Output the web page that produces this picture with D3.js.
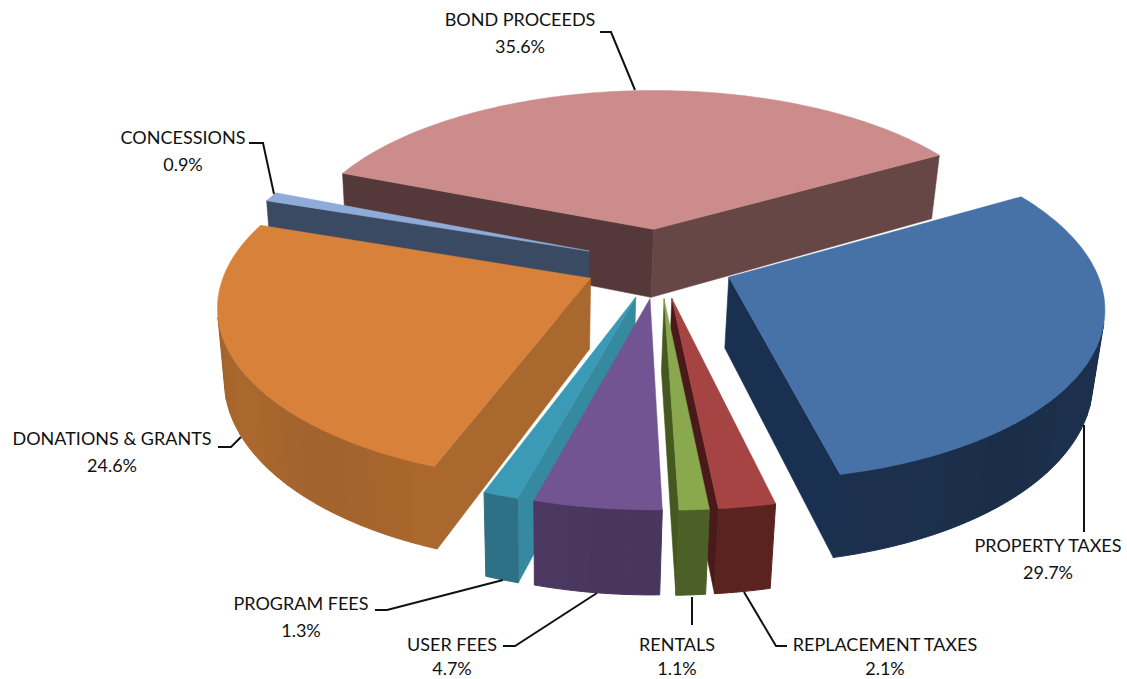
<!DOCTYPE html>
<html>
<head>
<meta charset="utf-8">
<script src="https://cdn.jsdelivr.net/npm/d3@7/dist/d3.min.js"></script>
<style>
  html, body { margin: 0; padding: 0; background: #fff; }
  svg { display: block; }
  text { font-family: Lato, "Open Sans", sans-serif; font-size: 18px; fill: #111; }
</style>
</head>
<body>
<svg id="chart" width="1127" height="679"></svg>
<script>
// Revenue shares, clockwise from the right edge of the largest slice.
const categories = ["PROPERTY TAXES", "REPLACEMENT TAXES", "RENTALS", "USER FEES",
                    "PROGRAM FEES", "DONATIONS & GRANTS", "CONCESSIONS", "BOND PROCEEDS"];
const shares = [29.7, 2.1, 1.1, 4.7, 1.3, 24.6, 0.9, 35.6];

// Face colours per slice.
const topColors  = ["#4672A8", "#A54443", "#8AA84E", "#725492", "#3B9AB5", "#D8813B", "#8FACD8", "#CD8C8C"];
const wallColors = ["#1B2F4B", "#5B2320", "#4E6128", "#4A3760", "#2D6E82", "#A6652D", "#3B4A63", "#674646"];
const sideColors = ["#1A3050", "#4A1A1A", "#45581F", "#4A3760", "#358A9F", "#A9682D", "#3B4A63", "#55383A"];

// Painter's order: furthest slices first.
const drawOrder = [7, 6, 5, 0, 4, 3, 1, 2];

// Label anchors and leader lines, indexed like categories.
const labelAt = [[1048, 546], [885, 645], [677, 645], [452, 645], [301, 604], [112, 439], [183, 138], [520, 20]];
const leaders = [
  [[1084, 425], [1084, 532]],
  [[744, 592], [776, 646], [787, 646]],
  [[692, 597], [692, 625]],
  [[503, 646], [515, 646], [597, 593]],
  [[375, 610], [387, 610], [503, 580]],
  [[218, 447], [231, 447], [241, 437]],
  [[249, 143], [263, 143], [274, 194]],
  [[600, 32], [611, 32], [635, 90]]
];

// Scene geometry of the tilted pie.
const cx = 655, cy = 263;
const radius = 364, explode = 75, depth = 70;
const tilt = 0.463, perspective = 0.000405, sink = 0.0003;
const skew = 0.02, drift = 4, lean = 0.035, roll = 0.007;
const firstAngle = 61 * Math.PI / 180;

// Ground coordinates (u across, v toward the viewer, z down) to screen pixels.
const project = (u, v, z) => {
  const w = 1 / (1 - perspective * v);
  const wx = 1 / (1 - perspective * v + sink * z);
  return [cx + (u + skew * v + drift) * wx - lean * z, cy + (tilt * v + z) * w - roll * u];
};

const pie = d3.pie().sort(null).value(d => d)
  .startAngle(firstAngle).endAngle(firstAngle + 2 * Math.PI);
const arcs = pie(shares);

const svg = d3.select("#chart");
const line = d3.line();
const closed = d3.line().curve(d3.curveLinearClosed);

// Screen-space winding tells whether a wall faces the viewer.
const faces = q => {
  let s = 0;
  q.forEach((p, i) => { const n = q[(i + 1) % q.length]; s += p[0] * n[1] - n[0] * p[1]; });
  return s < 0;
};

drawOrder.forEach(i => {
  const a = arcs[i];
  const mid = (a.startAngle + a.endAngle) / 2;
  const ou = Math.sin(mid) * explode, ov = -Math.cos(mid) * explode;
  const rim = t => [ou + radius * Math.sin(t), ov - radius * Math.cos(t)];
  const steps = d3.range(0, Math.max(2, Math.ceil((a.endAngle - a.startAngle) * 60)) + 1);
  const n = steps.length - 1;
  const angles = steps.map(s => a.startAngle + (a.endAngle - a.startAngle) * s / n);
  const ground = angles.map(rim);
  const g = svg.append("g").attr("class", "slice");
  const quad = (p, q) => [project(p[0], p[1], 0), project(q[0], q[1], 0),
                          project(q[0], q[1], depth), project(p[0], p[1], depth)];
  const apex = [ou, ov];

  // Radial walls
  [[apex, ground[0]], [ground[n], apex]].forEach(([p, q], k) => {
    const qd = quad(p, q);
    if (faces(qd)) {
      const col = (i === 7 && k === 1) ? wallColors[i] : sideColors[i];
      g.append("path").attr("d", closed(qd)).attr("fill", col).attr("stroke", col).attr("stroke-width", 0.6);
    }
  });

  // Curved outer wall: visible runs are grouped into bands of one shade,
  // each band overlapping the next so no seams show.
  const bandOf = t => Math.round(Math.cos(t * 9) * 2) / 2;
  let run = null;
  const flush = () => {
    if (!run) return;
    const pts = [...run.pts.map(p => project(p[0], p[1], 0)),
                 ...run.pts.slice().reverse().map(p => project(p[0], p[1], depth))];
    const col = d3.color(wallColors[i]).brighter(0.06 * run.band).formatHex();
    g.append("path").attr("d", closed(pts)).attr("fill", col).attr("stroke", col).attr("stroke-width", 1);
    run = null;
  };
  for (let s = 0; s < n; s++) {
    const qd = quad(ground[s], ground[s + 1]);
    if (!faces(qd)) { flush(); continue; }
    const band = bandOf((angles[s] + angles[s + 1]) / 2);
    if (run && run.band !== band) flush();
    if (!run) run = { band, pts: [ground[s]] };
    run.pts.push(ground[s + 1]);
  }
  flush();

  // Top face
  const topFace = [project(ou, ov, 0), ...ground.map(p => project(p[0], p[1], 0))];
  g.append("path").attr("d", closed(topFace)).attr("fill", topColors[i])
    .attr("stroke", topColors[i]).attr("stroke-width", 0.5);
});

// Leader lines
svg.append("g").selectAll("path").data(leaders).join("path")
  .attr("d", d => line(d)).attr("fill", "none").attr("stroke", "#111").attr("stroke-width", 2);

// Labels: name above, percentage below, kept inside the page at the bottom row
const labels = svg.append("g").attr("text-anchor", "middle").selectAll("g")
  .data(categories).join("g")
  .attr("transform", (d, i) => `translate(${labelAt[i][0]},${labelAt[i][1]})`);
labels.append("text").attr("y", 6).text(d => d);
labels.append("text").attr("y", (d, i) => Math.min(33, 675 - labelAt[i][1]))
  .text((d, i) => shares[i].toFixed(1) + "%");
</script>
</body>
</html>
